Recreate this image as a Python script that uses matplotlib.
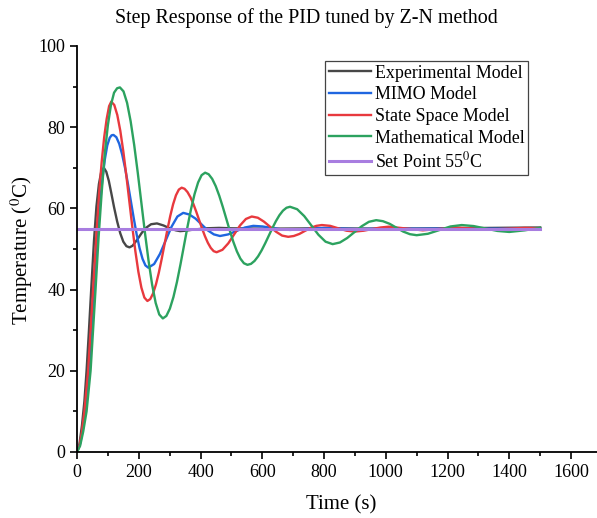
import matplotlib
matplotlib.use("Agg")
import matplotlib.pyplot as plt
from matplotlib.ticker import MultipleLocator

plt.rcParams["font.family"] = "Liberation Serif"
plt.rcParams["mathtext.fontset"] = "stix"

# Experimental model (time s, temperature C)
exp_t = [0, 8, 16, 24, 31, 38, 46, 55, 63, 71, 79, 87, 95, 103, 111, 120, 130, 140, 150, 160,
         170, 180, 195, 210, 225, 240, 259, 280, 300, 320, 334, 350, 380, 420, 460, 500, 600,
         800, 1000, 1200, 1500]
exp_y = [0, 2, 6.5, 12.5, 20, 29, 40, 52, 60.5, 66, 69.2, 70, 69, 66.8, 63.8, 60.3, 56.8, 53.9,
         51.8, 50.7, 50.4, 50.8, 52.3, 54, 55.3, 56.1, 56.3, 55.8, 55.1, 54.6, 54.4, 54.5, 54.8,
         55.1, 55.2, 55.1, 55.0, 55.1, 55.0, 55.1, 55.3]

# MIMO model
mimo_t = [0, 10, 20, 30, 40, 48, 56, 62, 68, 75, 82, 90, 98, 106, 112, 118,
          127.4, 136.8, 146.2, 155.7, 165.1, 174.5, 183.9, 193.3, 202.7, 212.2, 221.6, 231,
          249.8, 268.7, 287.5, 306.3, 325.2, 344, 363.8, 383.7, 403.5, 423.3, 443.2, 463,
          490, 517, 544, 571, 601, 630, 660, 690, 745, 800, 855, 910, 965, 1020, 1100,
          1200, 1300, 1400, 1500]
mimo_y = [0, 2, 6, 12.5, 20.5, 29, 40, 47.5, 55, 61.5, 67, 72, 75.5, 77.4, 78, 78.1,
          77.54, 75.91, 73.31, 69.93, 65.98, 61.75, 57.52, 53.57, 50.19, 47.59, 45.96, 45.4,
          46.3, 48.8, 52.15, 55.5, 58.0, 58.9, 58.5, 57.5, 56.05, 54.6, 53.6, 53.2,
          53.6, 54.45, 55.3, 55.7, 55.55, 55.2, 54.85, 54.7, 54.95, 55.2, 55.05, 54.9, 55.0, 55.1,
          55.0, 55.05, 55.0, 55.0, 55.1]

# State space model
ss_t = [0, 8, 16, 24, 36, 52, 64, 72, 80, 88, 96, 104, 111,
        120.75, 130.5, 140.25, 150, 159.75, 169.5, 179.25, 189, 198.75, 208.5, 218.25, 228,
        237.25, 246.5, 255.75, 265, 274.25, 283.5, 292.75, 302, 311.25, 320.5, 329.75, 339,
        348.4, 357.8, 367.3, 376.7, 386.1, 395.5, 404.9, 414.3, 423.8, 433.2, 442.6, 452,
        471, 490, 509, 528, 547, 566, 585.7, 605.3, 625, 644.7, 664.3, 684,
        702, 720, 738, 757, 775, 793, 820, 846, 873, 900, 928, 955, 983, 1010,
        1065, 1120, 1175, 1230, 1285, 1340, 1395, 1450, 1500]
ss_y = [0, 1.5, 5, 10, 20, 40, 55, 64, 71.5, 77.5, 82, 85.2, 86.3,
        85.47, 83.01, 79.11, 74.03, 68.11, 61.75, 55.39, 49.47, 44.39, 40.49, 38.03, 37.2,
        37.67, 39.07, 41.29, 44.17, 47.54, 51.15, 54.76, 58.13, 61.01, 63.23, 64.63, 65.1,
        64.83, 64.03, 62.77, 61.13, 59.21, 57.15, 55.09, 53.17, 51.53, 50.27, 49.47, 49.2,
        49.8, 51.4, 53.6, 55.8, 57.4, 58.0, 57.7, 56.75, 55.5, 54.25, 53.3, 53.0,
        53.2, 53.7, 54.45, 55.2, 55.7, 55.9, 55.7, 55.1, 54.5, 54.3, 54.5, 54.9, 55.3, 55.5,
        55.05, 54.6, 54.95, 55.3, 55.05, 54.8, 55.0, 55.2, 55.1]

# Mathematical model
math_t = [0, 10, 20, 31, 44, 60, 70, 80, 90, 100, 110, 120, 130, 139,
          150.6, 162.2, 173.7, 185.3, 196.9, 208.5, 220.1, 231.7, 243.3, 254.8, 266.4, 278,
          289.4, 300.8, 312.3, 323.7, 335.1, 346.5, 357.9, 369.3, 380.8, 392.2, 403.6, 415,
          426.4, 437.8, 449.3, 460.7, 472.1, 483.5, 494.9, 506.3, 517.8, 529.2, 540.6, 552,
          563.5, 575, 586.5, 598, 609.5, 621, 632.5, 644, 655.5, 667, 678.5, 690,
          713, 736, 759, 782, 805, 828,
          851.5, 875, 898.5, 922, 945.5, 969, 990.8, 1012.7, 1034.5, 1056.3, 1078.2, 1100,
          1136.5, 1173, 1209.5, 1246, 1284.5, 1323, 1361.5, 1400, 1450, 1500]
math_y = [0, 1.5, 5, 10, 20, 40, 53, 64, 73.5, 80.5, 85.5, 88.5, 89.6, 89.8,
          88.83, 85.99, 81.47, 75.58, 68.72, 61.35, 53.98, 47.12, 41.23, 36.71, 33.87, 32.9,
          33.51, 35.31, 38.16, 41.87, 46.2, 50.85, 55.5, 59.83, 63.54, 66.39, 68.19, 68.8,
          68.41, 67.28, 65.48, 63.13, 60.39, 57.45, 54.51, 51.77, 49.42, 47.62, 46.49, 46.1,
          46.34, 47.06, 48.19, 49.67, 51.4, 53.25, 55.1, 56.83, 58.31, 59.44, 60.16, 60.4,
          59.8, 58.1, 55.8, 53.5, 51.8, 51.2,
          51.6, 52.7, 54.15, 55.6, 56.7, 57.1, 56.85, 56.2, 55.25, 54.3, 53.65, 53.4,
          53.75, 54.65, 55.55, 55.9, 55.65, 55.05, 54.45, 54.2, 54.6, 55.2]

# Set point
sp_t = [0, 1500]
sp_y = [55, 55]

fig = plt.figure(figsize=(5.97, 5.18), dpi=100)
ax = fig.add_axes([77 / 597, 66 / 518, 524.9 / 597, 406 / 518])

ax.plot(exp_t, exp_y, color="#474747", lw=1.7, label="Experimental Model")
ax.plot(mimo_t, mimo_y, color="#1f66e0", lw=1.7, label="MIMO Model")
ax.plot(ss_t, ss_y, color="#e8393e", lw=1.7, label="State Space Model")
ax.plot(math_t, math_y, color="#2ca25f", lw=1.7, label="Mathematical Model")
ax.plot(sp_t, sp_y, color="#a87de0", lw=2.2, label="Set Point 55$^0$C")

ax.set_xlim(0, 1700)
ax.set_ylim(0, 100)
ax.xaxis.set_major_locator(MultipleLocator(200))
ax.xaxis.set_minor_locator(MultipleLocator(100))
ax.yaxis.set_major_locator(MultipleLocator(20))
ax.yaxis.set_minor_locator(MultipleLocator(10))
ax.tick_params(which="major", direction="out", length=5, width=1.2, labelsize=13)
ax.tick_params(which="minor", direction="out", length=3, width=1.2)
for s in ["top", "right"]:
    ax.spines[s].set_visible(False)
for s in ["left", "bottom"]:
    ax.spines[s].set_linewidth(1.3)

leg = ax.legend(loc="upper left", bbox_to_anchor=(0.4725, 0.963), borderaxespad=0,
                fontsize=12.9, handlelength=2.35, handletextpad=0.22, labelspacing=0.26,
                borderpad=0.2, fancybox=False, framealpha=1, edgecolor="#444444")
leg.get_frame().set_linewidth(0.9)

fig.text(306 / 597, 1 - 18 / 518, "Step Response of the PID tuned by Z-N method",
         ha="center", va="center", fontsize=14.4)
fig.text(341 / 597, 1 - 505 / 518, "Time (s)", ha="center", va="center", fontsize=15)
fig.text(22 / 597, 1 - 250 / 518, "Temperature ($^0$C)", ha="center", va="center",
         rotation=90, fontsize=15)

fig.savefig("out.png", dpi=100)
